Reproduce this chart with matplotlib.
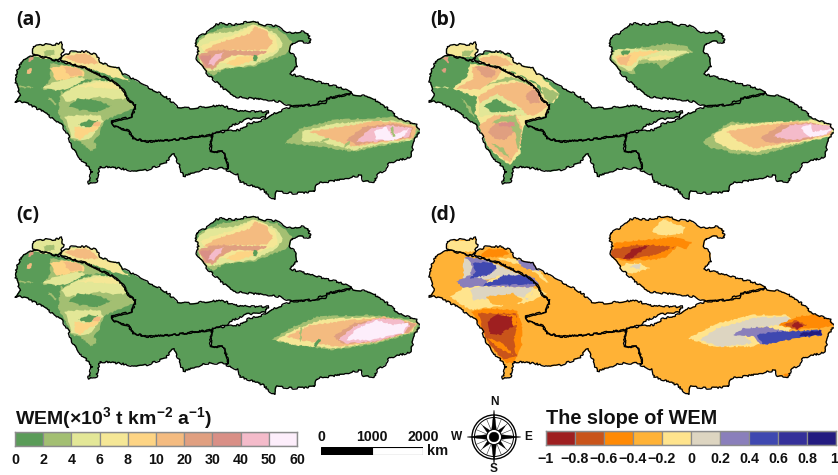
import matplotlib
matplotlib.use('Agg')
import matplotlib.pyplot as plt
from matplotlib.path import Path
from matplotlib.patches import PathPatch, Polygon, Circle
from matplotlib.transforms import ScaledTranslation
import numpy as np

plt.rcParams['font.family'] = ['Liberation Sans', 'DejaVu Sans']
plt.rcParams['mathtext.fontset'] = 'custom'
plt.rcParams['mathtext.rm'] = 'Liberation Sans:bold'
plt.rcParams['mathtext.default'] = 'rm'

W, H = 838, 475

WEM_COLORS = ['#5a9c58', '#a3bf72', '#e3e797', '#f5e796', '#fdd484', '#f4bb80', '#e09f80', '#d98f86', '#f4bbca', '#fdeefb']
WEM_TICKS = ['0', '2', '4', '6', '8', '10', '20', '30', '40', '50', '60']
SLOPE_COLORS = ['#9e1f20', '#c9541a', '#ff8a05', '#ffb236', '#ffe48d', '#ddd5c1', '#8a7fbb', '#3f48b0', '#35309a', '#231b80']
SLOPE_TICKS = ['\u22121', '\u22120.8', '\u22120.6', '\u22120.4', '\u22120.2', '0', '0.2', '0.4', '0.6', '0.8', '1']
SCALE_KM = [0, 1000, 2000]

# Shared boundary lines (map coordinates)
EDGE_WEST_CENTRAL = [(100,165),(130,172),(175,183),(205,190),(260,205),(300,225),(340,245),(370,270),(385,300),(408,318),(395,350),(335,365),(345,380),(385,392),(400,415),(440,425),(520,420),(590,410),(635,405)]
EDGE_WEST_EAST = [(635,405),(632,430),(630,455),(665,455),(680,480),(685,505)]

STRIP_NW = [(100,140),(130,133),(160,135),(185,128),(190,150),(180,175),(175,183),(130,172),(100,165)]
OUTER_CENTRAL = [(180,178),(195,165),(215,155),(260,155),(290,165),(300,185),(320,195),(345,200),(360,205),(370,222),(390,232),(430,255),(470,275),(505,295),(530,320),(570,325),(620,320),(665,315),(700,330),(760,335),(805,335),(795,352),(740,358),(700,375),(680,390),(640,398)]
OUTER_WEST = [(685,505),(620,505),(550,530),(535,490),(520,462),(495,490),(440,510),(410,515),(360,505),(300,500),(295,520),(290,545),(265,550),(275,515),(260,495),(235,470),(215,440),(205,405),(185,375),(130,335),(80,310),(60,305),(45,305),(60,285),(45,240),(50,215),(65,185),(70,178)]
OUTLINE_EAST = [(640,400),(690,392),(720,390),(745,372),(790,360),(810,345),(875,320),(940,315),(985,295),(1050,282),(1110,290),(1150,315),(1180,340),(1195,355),(1250,375),(1260,395),(1240,425),(1235,470),(1165,490),(1155,510),(1130,525),(1125,545),(1090,545),(1085,525),(1020,540),(950,550),(945,575),(880,580),(830,575),(825,598),(810,590),(790,570),(720,545),(715,525),(680,510),(685,495),(670,455),(635,455),(632,430)]
OUTLINE_NORTH = [(590,115),(605,105),(625,95),(645,75),(665,70),(700,75),(760,62),(790,75),(830,78),(860,100),(905,95),(925,100),(932,128),(900,125),(875,130),(870,155),(890,175),(890,200),(870,222),(920,235),(970,250),(1020,262),(1055,275),(1050,282),(985,295),(975,310),(875,320),(840,305),(780,298),(700,290),(670,265),(625,225),(610,205),(590,180),(595,150),(585,130)]
OUTLINE_WEST = EDGE_WEST_CENTRAL + EDGE_WEST_EAST[1:] + OUTER_WEST
REGIONS = [STRIP_NW, OUTER_CENTRAL + EDGE_WEST_CENTRAL[::-1][:-3], OUTLINE_WEST, OUTLINE_EAST, OUTLINE_NORTH]

# Zones: (class index, outline), painted in order
ZONES_A_WEST_NORTH = [
 (2,[(95,135),(190,125),(195,175),(130,175),(95,170)]),
 (1,[(130,155),(160,148),(165,165),(135,170)]),
 (3,[(180,178),(200,160),(260,150),(295,168),(305,192),(345,200),(372,230),(390,245),(340,232),(300,215),(262,205),(205,190)]),
 (5,[(195,170),(255,158),(285,175),(295,192),(255,192),(225,185)]),
 (1,[(150,190),(260,205),(300,225),(345,245),(375,275),(385,300),(405,318),(390,330),(350,345),(310,365),(300,400),(285,420),(270,450),(240,425),(215,420),(200,385),(175,340),(180,290),(185,270),(125,268),(150,240)]),
 (0,[(190,268),(240,240),(335,232),(345,245),(280,240),(205,268)]),
 (0,[(180,270),(215,262),(190,280)]),
 (2,[(185,285),(230,255),(290,240),(340,245),(365,265),(382,295),(340,300),(300,290),(240,300),(195,305)]),
 (3,[(230,262),(290,245),(340,248),(362,268),(300,262)]),
 (2,[(125,265),(165,245),(225,230),(262,235),(210,262),(180,272)]),
 (4,[(150,205),(200,195),(250,210),(255,228),(220,232),(195,238),(170,240),(160,225)]),
 (5,[(190,200),(240,205),(250,225),(215,230),(200,220)]),
 (0,[(205,320),(235,295),(290,300),(335,318),(290,335),(240,330)]),
 (2,[(195,350),(240,345),(300,345),(310,365),(290,390),(270,415),(235,420),(215,415),(205,385)]),
 (0,[(235,375),(265,360),(295,362),(270,385)]),
 (4,[(225,380),(255,385),(300,372),(295,388),(265,400),(240,420),(225,410)]),
 (5,[(280,368),(305,365),(295,380),(275,380)]),
 (1,[(265,445),(285,425),(290,445),(270,455)]),
 (6,[(85,175),(100,170),(100,180),(85,185)]),
 (5,[(80,210),(95,205),(95,220),(80,220)]),
 (1,[(50,258),(100,260),(100,264),(50,263)]),
 (1,[(145,290),(170,310),(165,315),(145,298)]),
 (1,[(598,115),(660,85),(700,80),(760,65),(790,80),(830,85),(860,105),(875,125),(865,155),(850,165),(760,200),(680,205),(640,225),(615,215),(595,180),(590,140)]),
 (2,[(592,130),(625,100),(700,95),(760,75),(830,100),(850,130),(830,160),(760,195),(680,205),(625,215),(600,190)]),
 (3,[(600,140),(640,122),(700,105),(760,75),(800,90),(830,112),(835,150),(770,172),(700,190),(640,190)]),
 (5,[(610,155),(650,130),(750,100),(765,80),(800,95),(820,130),(800,150),(700,150),(640,160)]),
 (6,[(595,165),(640,150),(700,150),(800,155),(770,170),(700,165),(660,185),(640,210),(610,200)]),
 (4,[(680,190),(720,168),(770,168),(760,182),(710,198)]),
 (7,[(597,170),(630,165),(640,195),(620,200)]),
 (8,[(625,192),(640,167),(670,155),(665,170),(640,197)]),
 (0,[(760,185),(762,165),(772,165),(770,185)]),
]
ZONES_A_EAST = [
 (1,[(855,430),(900,385),(1000,360),(1200,350),(1260,380),(1240,420),(1130,440),(1060,455),(960,440)]),
 (2,[(905,395),(1000,370),(1180,360),(1250,380),(1235,420),(1130,435),(1060,450),(960,425),(905,425)]),
 (5,[(930,395),(1020,380),(1120,365),(1190,365),(1250,380),(1240,415),(1130,430),(1060,440),(1000,420)]),
 (6,[(1040,420),(1090,380),(1180,370),(1240,385),(1230,415),(1130,425),(1070,435)]),
 (8,[(1070,425),(1110,385),(1170,375),(1235,385),(1225,410),(1130,425)]),
 (9,[(1120,395),(1160,380),(1175,405),(1230,385),(1210,410),(1180,420),(1130,420)]),
 (1,[(900,390),(905,390),(904,430),(899,430)]),
 (1,[(960,425),(985,412),(988,416),(965,430)]),
 (1,[(1030,440),(1048,422),(1052,425),(1036,444)]),
 (1,[(1170,385),(1178,380),(1185,410),(1178,412)]),
]
ZONES_B = [
 (3,[(80,135),(170,125),(175,170),(120,170),(80,165)]),
 (1,[(125,155),(160,150),(150,170),(125,170)]),
 (3,[(175,170),(230,155),(270,170),(300,190),(345,210),(375,240),(420,280),(400,310),(370,300),(360,255),(300,225),(250,205),(180,190)]),
 (5,[(180,175),(230,165),(265,180),(280,195),(245,200),(190,185)]),
 (1,[(365,260),(420,280),(395,310),(370,295)]),
 (3,[(100,265),(140,230),(150,190),(245,205),(300,225),(345,250),(365,280),(390,320),(375,350),(320,365),(305,400),(300,460),(270,495),(235,470),(205,440),(185,380),(165,340),(170,290),(135,280)]),
 (5,[(110,265),(160,235),(155,200),(200,195),(245,210),(225,240),(180,270)]),
 (6,[(165,200),(205,200),(230,215),(215,235),(190,230)]),
 (1,[(200,255),(260,230),(310,235),(345,260),(290,240)]),
 (5,[(175,290),(230,255),(300,245),(345,265),(365,300),(385,320),(350,345),(300,345),(240,340),(180,340)]),
 (6,[(315,290),(335,268),(358,280),(358,310),(330,310)]),
 (2,[(180,310),(230,280),(300,320),(320,345),(230,345),(175,350)]),
 (0,[(190,320),(230,295),(260,315),(300,330),(260,335),(215,335)]),
 (5,[(175,380),(220,345),(290,345),(305,380),(300,440),(270,490),(235,465),(205,440),(185,400)]),
 (6,[(205,395),(225,370),(270,365),(285,395),(255,420),(225,415)]),
 (1,[(215,370),(245,350),(285,345),(305,395),(295,450),(285,400),(260,365)]),
 (7,[(235,370),(285,365),(285,380),(240,380)]),
 (1,[(215,430),(250,445),(275,480),(240,455)]),
 (1,[(125,295),(150,320),(170,360),(150,340)]),
 (6,[(65,175),(85,170),(85,190)]),
 (6,[(62,210),(78,205),(78,220)]),
 (2,[(40,260),(100,260),(100,265),(40,265)]),
 (1,[(590,150),(680,140),(740,130),(800,140),(820,155),(770,175),(745,190),(725,205),(710,190),(660,190),(640,210),(650,225),(610,215),(580,195),(575,160)]),
 (2,[(585,150),(640,145),(700,150),(815,155),(770,170),(745,180),(700,170),(660,180),(635,215),(600,200),(575,175)]),
 (4,[(585,170),(640,155),(730,150),(660,170),(635,200),(600,195)]),
 (0,[(600,155),(630,150),(625,165),(605,165)]),
 (5,[(590,175),(615,170),(635,165),(620,195),(600,195)]),
 (3,[(660,180),(720,165),(780,170),(720,180)]),
 (1,[(850,425),(880,400),(930,365),(1000,370),(1240,355),(1245,400),(1130,435),(1020,465),(930,460),(915,450),(870,445)]),
 (3,[(880,405),(930,375),(1010,370),(1180,360),(1245,380),(1235,410),(1130,430),(1010,455),(940,450),(890,430)]),
 (5,[(920,395),(1020,375),(1150,365),(1240,380),(1230,405),(1130,425),(1000,445),(950,420)]),
 (6,[(1020,415),(1080,375),(1170,368),(1235,385),(1220,405),(1130,425),(1050,430)]),
 (8,[(1060,410),(1110,375),(1170,370),(1240,380),(1220,405),(1120,420)]),
 (9,[(1140,385),(1170,372),(1180,395),(1240,385),(1215,405),(1170,410)]),
]
ZONES_C_EAST = [
 (1,[(815,420),(870,385),(950,350),(1100,345),(1260,360),(1250,395),(1130,430),(1000,450),(890,435)]),
 (3,[(830,420),(880,390),(960,360),(1100,350),(1240,365),(1240,395),(1130,425),(1010,445),(880,435)]),
 (5,[(860,410),(930,375),(1060,360),(1150,350),(1250,370),(1235,395),(1130,425),(1010,440),(900,420)]),
 (6,[(1000,410),(1060,370),(1150,355),(1250,370),(1230,395),(1130,425),(1030,432)]),
 (8,[(1015,420),(1060,380),(1130,355),(1200,360),(1230,375),(1215,400),(1120,425),(1040,430)]),
 (9,[(1040,420),(1070,385),(1130,360),(1180,375),(1225,370),(1210,400),(1110,420)]),
 (1,[(900,380),(905,380),(904,425),(899,425)]),
 (0,[(940,440),(955,415),(962,420),(950,442)]),
]
ZONES_D = [
 (4,[(80,125),(170,118),(170,155),(140,155),(85,150)]),
 (2,[(180,170),(200,148),(250,145),(270,160),(240,172)]),
 (4,[(100,285),(150,250),(360,265),(380,280),(340,300),(310,310),(150,330),(90,290)]),
 (5,[(150,270),(180,258),(340,262),(330,300),(295,290),(160,300)]),
 (3,[(200,290),(280,280),(310,300),(280,320),(210,310)]),
 (4,[(230,175),(290,175),(350,200),(385,250),(340,215),(300,195)]),
 (6,[(290,180),(340,185),(360,215),(310,205)]),
 (5,[(130,175),(200,180),(260,205),(300,225),(200,240),(130,255)]),
 (6,[(110,245),(150,225),(200,240),(330,225),(360,250),(340,262),(180,258),(130,265)]),
 (6,[(135,170),(200,180),(225,210),(200,230),(150,225),(160,200)]),
 (7,[(155,190),(215,185),(232,205),(205,225),(150,235),(170,215)]),
 (7,[(195,250),(250,225),(320,225),(345,250),(270,255),(190,258)]),
 (4,[(200,245),(240,225),(240,235),(200,250)]),
 (4,[(312,292),(345,260),(330,300)]),
 (2,[(155,335),(200,325),(290,330),(305,375),(305,440),(285,485),(260,490),(225,455),(195,410)]),
 (1,[(175,340),(290,340),(290,380),(280,420),(290,470),(250,480),(215,440),(195,410)]),
 (2,[(240,345),(290,345),(290,375),(265,385)]),
 (0,[(205,365),(225,345),(250,345),(275,350),(280,380),(250,395),(245,405),(210,400)]),
 (2,[(205,415),(250,430),(280,465),(235,445)]),
 (4,[(695,95),(730,55),(760,70),(795,80),(790,100),(740,105),(700,100)]),
 (4,[(590,210),(620,190),(660,190),(690,205),(640,220),(610,215)]),
 (5,[(630,200),(660,190),(660,210)]),
 (2,[(580,130),(640,122),(760,112),(815,125),(800,150),(770,140),(740,170),(700,180),(650,180),(620,185),(590,175)]),
 (1,[(575,150),(640,135),(700,135),(750,140),(700,165),(630,180),(600,175),(572,170)]),
 (0,[(610,175),(640,145),(690,135),(670,150),(635,175)]),
 (1,[(660,165),(720,145),(770,140),(700,165)]),
 (4,[(805,415),(890,370),(1000,345),(1100,345),(1130,370),(1100,400),(1000,440),(880,440)]),
 (5,[(840,420),(890,385),(1000,355),(1100,348),(1130,368),(1000,385),(960,400),(1000,430),(900,440)]),
 (6,[(940,405),(970,385),(1040,380),(1100,395),(1060,430),(1020,435),(1000,410)]),
 (7,[(1010,405),(1060,395),(1200,390),(1205,405),(1100,420),(1030,435)]),
 (9,[(1140,400),(1205,390),(1205,405),(1140,410)]),
 (2,[(1075,375),(1130,350),(1220,338),(1245,370),(1210,385),(1130,388)]),
 (1,[(1090,375),(1130,360),(1160,375),(1130,390)]),
 (0,[(1115,375),(1135,365),(1150,380),(1130,388)]),
 (2,[(1085,525),(1110,520),(1100,530)]),
]
PANELS = [
 ('(a)', 0, 0, WEM_COLORS, 0, [(ZONES_A_WEST_NORTH,0,0),(ZONES_A_EAST,0,0)]),
 ('(b)', 414, 0, WEM_COLORS, 0, [(ZONES_B,18,0)]),
 ('(c)', 0, 195, WEM_COLORS, 0, [(ZONES_A_WEST_NORTH,0,0),(ZONES_C_EAST,0,15)]),
 ('(d)', 414, 195, SLOPE_COLORS, 3, [(ZONES_D,18,15)]),
]


def poly_path(pts):
    p = list(pts) + [pts[0]]
    return Path(p, [Path.MOVETO] + [Path.LINETO] * (len(p) - 2) + [Path.CLOSEPOLY])


fig = plt.figure(figsize=(W / 100, H / 100), dpi=100, facecolor='white')


def px_axes(x0, y0, w, h):
    return fig.add_axes([x0 / W, 1 - (y0 + h) / H, w / W, h / H])


clip = Path.make_compound_path(*[poly_path(r) for r in REGIONS])
for label, ox, oy, colors, base, layers in PANELS:
    ax = px_axes(ox, oy, 420, 200)
    ax.set_xlim(0, 1260)
    ax.set_ylim(600, 0)
    ax.axis('off')
    ax.patch.set_alpha(0)
    bg = PathPatch(clip, fc=colors[base], ec='none', zorder=1)
    ax.add_patch(bg)
    for zones, dx, dy in layers:
        for lev, pts in zones:
            shifted = [(x + dx, y + dy) for x, y in pts]
            pa = PathPatch(poly_path(shifted), fc=colors[lev], ec='none', zorder=2)
            pa.set_sketch_params(scale=0.7, length=9, randomness=16)
            ax.add_patch(pa)
            pa.set_clip_path(bg)
    for region in REGIONS:
        ln = PathPatch(poly_path(region), fc='none', ec='black', lw=0.95, zorder=3, joinstyle='round')
        ln.set_sketch_params(scale=0.9, length=12, randomness=24)
        ax.add_patch(ln)
    fig.text((ox + 16) / W, 1 - (oy + 20) / H, label, fontsize=14, fontweight='bold',
             family='Open Sans', va='center', ha='left', color='#111111')


def colorbar(x0, y0, w, h, colors, ticks):
    ax = px_axes(x0, y0, w, h)
    idx = np.arange(len(colors))
    ax.bar(idx + 0.5, np.ones(len(colors)), width=1, color=colors, edgecolor='#8c8c8c', linewidth=0.9)
    ax.set_xlim(0, len(colors))
    ax.set_ylim(0, 1)
    ax.set_yticks([])
    ax.set_xticks(np.arange(len(ticks)))
    ax.set_xticklabels(ticks, fontsize=10.3, fontweight='bold', color='#111111')
    ax.tick_params(axis='x', length=0, pad=5)
    for s in ax.spines.values():
        s.set_color('#8c8c8c')
        s.set_linewidth(1.0)
    return ax


colorbar(15, 432, 282, 14, WEM_COLORS, WEM_TICKS)
slope_ax = colorbar(546, 431, 290, 14, SLOPE_COLORS, SLOPE_TICKS)
last = slope_ax.get_xticklabels()[-1]
last.set_horizontalalignment('right')
last.set_transform(last.get_transform() + ScaledTranslation(1.5 / 72, 0, fig.dpi_scale_trans))
fig.text(15 / W, 1 - 418 / H, 'WEM(\u00d710$^{3}$ t km$^{\u22122}$ a$^{\u22121}$)', fontsize=14,
         fontweight='bold', va='center', ha='left', color='#111111')
fig.text(546 / W, 1 - 418 / H, 'The slope of WEM', fontsize=14.3, fontweight='bold',
         va='center', ha='left', color='#111111')

# scale bar
sb = px_axes(321, 447, 102, 8)
sb.barh([0], [SCALE_KM[1] - SCALE_KM[0]], left=SCALE_KM[0], height=1, color='black', edgecolor='black', lw=0.8)
sb.barh([0], [SCALE_KM[2] - SCALE_KM[1]], left=SCALE_KM[1], height=1, color='white', edgecolor='black', lw=0.8)
sb.set_xlim(SCALE_KM[0], SCALE_KM[2])
sb.set_ylim(-0.5, 0.5)
sb.axis('off')
for km in SCALE_KM:
    fig.text((321 + 102 * km / SCALE_KM[2]) / W, 1 - 437 / H, str(km), fontsize=10.2, fontweight='bold',
             ha='center', va='center', color='#111111')
fig.text(427 / W, 1 - 451 / H, 'km', fontsize=10.5, fontweight='bold', ha='left', va='center', color='#111111')

# compass rose
cp = px_axes(450, 395, 88, 80)
cp.set_xlim(-44, 44)
cp.set_ylim(-40, 40)
cp.set_aspect('equal')
cp.axis('off')
cy = -2
for r, lw in [(22, 1.0), (19.5, 0.7)]:
    cp.add_patch(Circle((0, cy), r, fc='white' if r == 22 else 'none', ec='black', lw=lw, zorder=1))
for a in np.arange(0, 360, 22.5):
    t = np.radians(a)
    cp.plot([0, 19.5 * np.cos(t)], [cy, cy + 19.5 * np.sin(t)], color='#333333', lw=0.4, zorder=2)
for a, R in [(a, 27) for a in (0, 90, 180, 270)] + [(a, 16) for a in (45, 135, 225, 315)]:
    t, n = np.radians(a), np.radians(a + 90)
    tip = (R * np.cos(t), cy + R * np.sin(t))
    wid = 3.2
    cp.add_patch(Polygon([tip, (wid * np.cos(n), cy + wid * np.sin(n)), (-wid * np.cos(n), cy - wid * np.sin(n))],
                         fc='black', ec='black', lw=0.3, zorder=3))
cp.add_patch(Circle((0, cy), 7.5, fc='white', ec='black', lw=0.7, zorder=4))
cp.add_patch(Circle((0, cy), 4.8, fc='black', ec='black', lw=0.4, zorder=5))
for t, x, y in [('N', 0, 33), ('S', 0, -34.5), ('W', -37, -2), ('E', 34, -2)]:
    cp.text(x, y, t, fontsize=8.6, fontweight='bold', ha='center', va='center', color='#111111')

fig.savefig('out.png', dpi=100, facecolor='white')
